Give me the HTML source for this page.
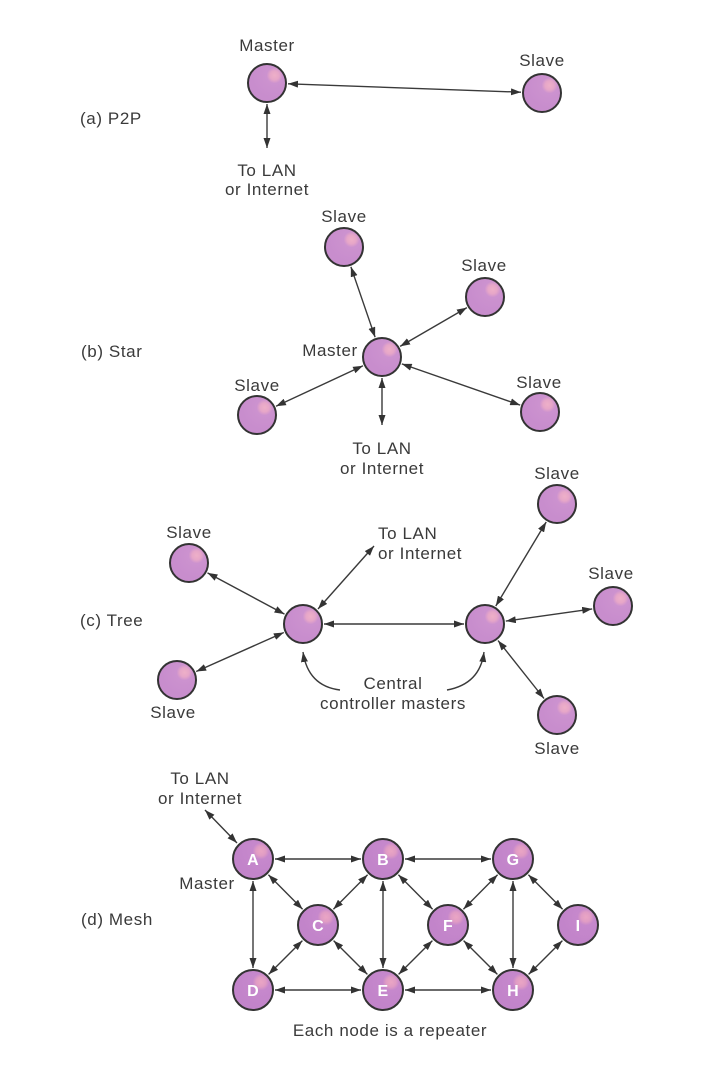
<!DOCTYPE html>
<html><head><meta charset="utf-8"><style>
html,body{margin:0;padding:0;background:#fff;}
svg{display:block;}
text{font-family:"Liberation Sans",Arial,sans-serif;font-size:17px;fill:#3a3a3a;letter-spacing:0.6px;}
.c{text-anchor:middle;}
.m{font-size:16px;font-weight:bold;fill:#fff;text-anchor:middle;letter-spacing:0.3px;}
line,path.l{stroke:#3a3a3a;stroke-width:1.4;fill:none;}
.a{marker-start:url(#ah);marker-end:url(#ah);}
.e{marker-end:url(#ah);}
.n{fill:url(#g);stroke:#333;stroke-width:2;}
.nm{fill:url(#g2);stroke:#333;stroke-width:2;}
</style></head><body>
<svg width="720" height="1085" viewBox="0 0 720 1085" xmlns="http://www.w3.org/2000/svg">
<defs>
<marker id="ah" viewBox="0 0 10 7" refX="10" refY="3.5" markerWidth="10" markerHeight="7" markerUnits="userSpaceOnUse" orient="auto-start-reverse">
<path d="M0,0 L10,3.5 L0,7 Z" fill="#333"/>
</marker>
<radialGradient id="g" cx="0.7" cy="0.3" r="0.6">
<stop offset="0" stop-color="#eeb0c8"/>
<stop offset="0.2" stop-color="#e6a6c8"/>
<stop offset="0.35" stop-color="#cc92cf"/>
<stop offset="1" stop-color="#c88dcd"/>
</radialGradient>
<radialGradient id="g2" cx="0.7" cy="0.3" r="0.6">
<stop offset="0" stop-color="#eaa6c4"/>
<stop offset="0.2" stop-color="#e09cc4"/>
<stop offset="0.35" stop-color="#c688cc"/>
<stop offset="1" stop-color="#c284ca"/>
</radialGradient>
</defs>

<!-- (a) P2P -->
<text x="80" y="124">(a) P2P</text>
<line class="a" x1="288" y1="83.8" x2="521" y2="92.2"/>
<line class="a" x1="267" y1="104" x2="267" y2="148"/>
<circle class="n" cx="267" cy="83" r="19"/>
<circle class="n" cx="542" cy="93" r="19"/>
<text class="c" x="267" y="51">Master</text>
<text class="c" x="542" y="66">Slave</text>
<text class="c" x="267" y="176">To LAN</text>
<text class="c" x="267" y="195">or Internet</text>

<!-- (b) Star -->
<text x="81" y="357">(b) Star</text>
<line class="a" x1="375.1" y1="337.2" x2="350.9" y2="266.8"/>
<line class="a" x1="400.1" y1="346.4" x2="466.9" y2="307.6"/>
<line class="a" x1="363" y1="365.8" x2="276" y2="406.2"/>
<line class="a" x1="401.8" y1="363.9" x2="520.2" y2="405.1"/>
<line class="a" x1="382" y1="378" x2="382" y2="425"/>
<circle class="n" cx="344" cy="247" r="19"/>
<circle class="n" cx="485" cy="297" r="19"/>
<circle class="n" cx="382" cy="357" r="19"/>
<circle class="n" cx="257" cy="415" r="19"/>
<circle class="n" cx="540" cy="412" r="19"/>
<text class="c" x="344" y="222">Slave</text>
<text class="c" x="484" y="271">Slave</text>
<text class="c" x="330" y="356">Master</text>
<text class="c" x="257" y="391">Slave</text>
<text class="c" x="539" y="388">Slave</text>
<text class="c" x="382" y="454">To LAN</text>
<text class="c" x="382" y="474">or Internet</text>

<!-- (c) Tree -->
<text x="80" y="626">(c) Tree</text>
<line class="a" x1="324" y1="624" x2="464" y2="624"/>
<line class="a" x1="207.5" y1="572.9" x2="284.5" y2="614.1"/>
<line class="a" x1="196.2" y1="671.5" x2="283.8" y2="632.5"/>
<line class="a" x1="318" y1="609" x2="374" y2="546"/>
<line class="a" x1="495.8" y1="606" x2="546.2" y2="522"/>
<line class="a" x1="505.8" y1="621.1" x2="592.2" y2="608.9"/>
<line class="a" x1="498" y1="640.5" x2="544" y2="698.5"/>
<path class="l e" d="M340 690 Q308 686 303 652"/>
<path class="l e" d="M447 690 Q480 684 484 652"/>
<circle class="n" cx="189" cy="563" r="19"/>
<circle class="n" cx="177" cy="680" r="19"/>
<circle class="n" cx="303" cy="624" r="19"/>
<circle class="n" cx="485" cy="624" r="19"/>
<circle class="n" cx="557" cy="504" r="19"/>
<circle class="n" cx="613" cy="606" r="19"/>
<circle class="n" cx="557" cy="715" r="19"/>
<text class="c" x="189" y="538">Slave</text>
<text class="c" x="173" y="718">Slave</text>
<text class="c" x="557" y="479">Slave</text>
<text class="c" x="611" y="579">Slave</text>
<text class="c" x="557" y="754">Slave</text>
<text x="378" y="539">To LAN</text>
<text x="378" y="559">or Internet</text>
<text class="c" x="393" y="689">Central</text>
<text class="c" x="393" y="709">controller masters</text>

<!-- (d) Mesh -->
<text x="81" y="925">(d) Mesh</text>
<line class="a" x1="205" y1="810" x2="237" y2="843"/>
<line class="a" x1="275" y1="859" x2="361" y2="859"/>
<line class="a" x1="405" y1="859" x2="491" y2="859"/>
<line class="a" x1="275" y1="990" x2="361" y2="990"/>
<line class="a" x1="405" y1="990" x2="491" y2="990"/>
<line class="a" x1="253" y1="881" x2="253" y2="968"/>
<line class="a" x1="383" y1="881" x2="383" y2="968"/>
<line class="a" x1="513" y1="881" x2="513" y2="968"/>
<line class="a" x1="268.4" y1="874.7" x2="302.6" y2="909.3"/>
<line class="a" x1="367.6" y1="874.7" x2="333.4" y2="909.3"/>
<line class="a" x1="302.4" y1="940.6" x2="268.6" y2="974.4"/>
<line class="a" x1="333.6" y1="940.6" x2="367.4" y2="974.4"/>
<line class="a" x1="398.4" y1="874.7" x2="432.6" y2="909.3"/>
<line class="a" x1="497.6" y1="874.7" x2="463.4" y2="909.3"/>
<line class="a" x1="432.4" y1="940.6" x2="398.6" y2="974.4"/>
<line class="a" x1="463.6" y1="940.6" x2="497.4" y2="974.4"/>
<line class="a" x1="528.4" y1="874.7" x2="562.6" y2="909.3"/>
<line class="a" x1="562.4" y1="940.6" x2="528.6" y2="974.4"/>
<circle class="nm" cx="253" cy="859" r="20"/>
<circle class="nm" cx="383" cy="859" r="20"/>
<circle class="nm" cx="513" cy="859" r="20"/>
<circle class="nm" cx="318" cy="925" r="20"/>
<circle class="nm" cx="448" cy="925" r="20"/>
<circle class="nm" cx="578" cy="925" r="20"/>
<circle class="nm" cx="253" cy="990" r="20"/>
<circle class="nm" cx="383" cy="990" r="20"/>
<circle class="nm" cx="513" cy="990" r="20"/>
<text class="m" x="253" y="865">A</text>
<text class="m" x="383" y="865">B</text>
<text class="m" x="513" y="865">G</text>
<text class="m" x="318" y="931">C</text>
<text class="m" x="448" y="931">F</text>
<text class="m" x="578" y="931">I</text>
<text class="m" x="253" y="996">D</text>
<text class="m" x="383" y="996">E</text>
<text class="m" x="513" y="996">H</text>
<text class="c" x="200" y="784">To LAN</text>
<text class="c" x="200" y="804">or Internet</text>
<text class="c" x="207" y="889">Master</text>
<text class="c" x="390" y="1036">Each node is a repeater</text>
</svg>
</body></html>
